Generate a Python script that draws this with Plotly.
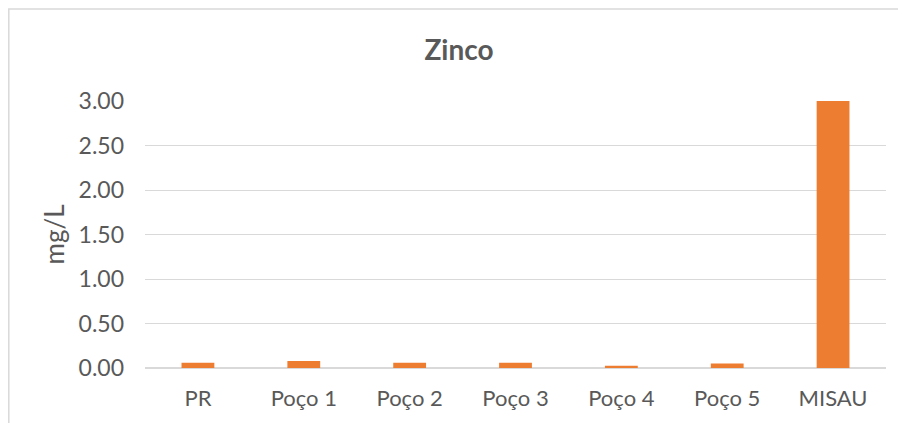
import plotly.graph_objects as go

categories = ["PR", "Poço 1", "Poço 2", "Poço 3", "Poço 4", "Poço 5", "MISAU"]
values = [0.06, 0.08, 0.06, 0.06, 0.025, 0.05, 3.0]
y_ticks = [0, 0.5, 1.0, 1.5, 2.0, 2.5, 3.0]
y_tick_labels = ["0.00", "0.50", "1.00", "1.50", "2.00", "2.50", "3.00"]

W, H = 898, 415
L, R, T, B = 137, 20, 93, 55
pw, ph = W - L - R, H - T - B

txt = "#595959"
grid = "#D9D9D9"
font = "Lato"

fig = go.Figure(go.Bar(x=categories, y=values, marker=dict(color="#ED7D31", line=dict(width=0)),
                       hoverinfo="x+y"))

fig.update_layout(
    width=W, height=H,
    margin=dict(l=L, r=R, t=T, b=B),
    paper_bgcolor="white", plot_bgcolor="white",
    bargap=0.69,
    showlegend=False,
    font=dict(family=font, color=txt, size=22),
    title=dict(text="<b>Zinco</b>", xref="container", x=451 / W, xanchor="center",
               yref="container", y=1 - 42 / H, yanchor="middle",
               font=dict(family=font, size=28, color=txt)),
    xaxis=dict(showgrid=False, showline=False, ticks="", zeroline=False,
               tickfont=dict(size=22, color=txt), ticklabelstandoff=15),
    yaxis=dict(range=[0, 3.0], tickvals=y_ticks, ticktext=y_tick_labels,
               showgrid=True, gridcolor=grid, gridwidth=1,
               zeroline=True, zerolinecolor=grid, zerolinewidth=1.5,
               showline=False, ticks="",
               tickfont=dict(size=23, color=txt), ticklabelstandoff=20,
               title=dict(text="mg/L", font=dict(size=26, color=txt), standoff=6)),
    shapes=[dict(type="rect", xref="paper", yref="paper",
                 x0=(0.8 - L) / pw, x1=(W + 10 - L) / pw,
                 y0=-(B + 10) / ph, y1=(H - B - 1) / ph,
                 line=dict(color=grid, width=1.5), fillcolor="rgba(0,0,0,0)", layer="below")],
)

fig.write_html("out.html")
